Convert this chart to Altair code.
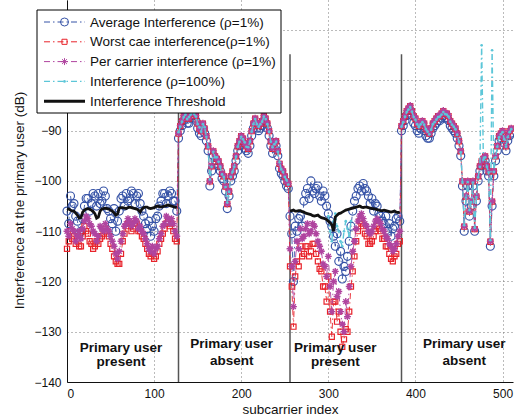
import altair as alt
import pandas as pd

# ---------------- data (every 2nd subcarrier) ----------------
subcarrier = list(range(0, 512, 2))
N = None

# --- region 1: subcarriers 0..126 (primary user present)
avg_r1 = [-106, -108.5, -103, -105, -104.5, -107, -108, -110.5,
          -110, -107.5, -105, -103.5, -103.5, -106, -104.5, -102.5,
          -103, -105, -102.5, -104.5, -104, -102, -103, -105.5,
          -106, -107.5, -108.5, -105.5, -110, -108, -106, -103.5,
          -103, -105, -102.5, -104, -103.5, -102, -102.5, -104.5,
          -103, -102.5, -104.5, -106, -107, -108.5, -109.5, -108,
          -111, -109, -110, -107.5, -107, -105, -104, -102.5,
          -102.5, -104.5, -103, -102, -102.5, -104, -104, -106]
worst_r1 = [-113.5, -112, -110, -111.5, -111, -112.5, -112, -113,
            -113, -111, -109, -110, -110.5, -112, -112.5, -113.5,
            -113, -112, -112.5, -111.5, -111, -110.5, -109.5, -110,
            -111, -112.5, -113.5, -115, -116, -116.5, -116.5, -114.5,
            -112, -110.5, -109, -108.5, -108.5, -110, -109.5, -108.5,
            -108.5, -110, -110, -111, -111.5, -112.5, -113.5, -114.5,
            -115, -114.5, -115.5, -115, -114, -112.5, -111.5, -110.5,
            -109.5, -108.5, -108, -109, -108.5, -110, -111.5, -112]
per_r1 = [-110, -111, -108.5, -109.5, -110, -112, -111, -110,
          -111.5, -109.5, -108, -107, -107.5, -108.5, -109, -110,
          -110.5, -112, -111, -109, -109.5, -110, -108.5, -109.5,
          -110, -111, -112, -113, -114.5, -115.5, -114, -112,
          -110.5, -109, -108.5, -107.5, -108, -109, -108.5, -107.5,
          -108, -109.5, -109, -110, -110.5, -111.5, -112.5, -113.5,
          -114, -113, -114.5, -113.5, -113, -111.5, -110.5, -109,
          -108.5, -107, -107.5, -108.5, -107.5, -108.5, -110, -111]
full_r1 = [N] * 64
thr_r1 = [-105.5, -105.6, -105.8, -106, -106, -106.4, -106.8, -107.4,
          -107.3, -106.2, -105.8, -105.6, -105.5, -105.6, -105.8, -106.1,
          -106.5, -107.4, -107.2, -106, -105.6, -105.5, -105.4, -105.5,
          -105.6, -105.8, -106, -106.3, -106.8, -106.6, -105.4, -105.3,
          -105.3, -105.4, -105.5, -105.3, -105.2, -105.3, -105.4, -105.5,
          -105.6, -105.8, -106.2, -105.6, -105.3, -105.2, -105.2, -105.4,
          -105.5, -105.4, -105.3, -105.1, -105, -105.1, -105.2, -105.1,
          -105, -104.9, -104.8, -104.9, -105, -105.1, -105.2, -105.3]

# --- region 2: subcarriers 128..254 (primary user absent)
avg_r2 = [-91.5, -90, -89, -88, -87.5, -88.5, -88.5, -87.5,
          -87, -87.5, -88, -89.5, -90.5, -91, -89.5, -90.5,
          -92, -94, -101, -98, -95, -96, -96.5, -97,
          -98, -99.5, -100, -102, -105.5, -103, -100, -99,
          -98, -96, -94, -93, -92, -92.5, -93.5, -94,
          -94.5, -93, -91, -89.5, -88.5, -89.5, -90, -89.5,
          -89, -88, -88.5, -89.5, -91, -93, -94.5, -93.5,
          -93, -95, -97.5, -98.5, -99, -100, -101, -101.5]
worst_r2 = [-90.6, -89.1, -88.1, -87.1, -86.6, -87.6, -87.6, -86.6,
            -86.1, -86.6, -87.1, -88.6, -89.6, -90.1, -88.6, -89.6,
            -91.1, -93.1, -100.1, -97.1, -94.1, -95.1, -95.6, -96.1,
            -97.1, -98.6, -99.1, -101.1, -104.6, -102.1, -99.1, -98.1,
            -97.1, -95.1, -93.1, -92.1, -91.1, -91.6, -92.6, -93.1,
            -93.6, -92.1, -90.1, -88.6, -87.6, -88.6, -89.1, -88.6,
            -88.1, -87.1, -87.6, -88.6, -90.1, -92.1, -93.6, -92.6,
            -92.1, -94.1, -96.6, -97.6, -98.1, -99.1, -100.1, -100.6]
per_r2 = [-90.5, -89, -88, -87, -86.5, -87.5, -87.5, -86.5,
          -86, -86.5, -87, -88.5, -89.5, -90, -88.5, -89.5,
          -91, -93, -100, -97, -94, -95, -95.5, -96,
          -97, -98.5, -99, -101, -104.5, -102, -99, -98,
          -97, -95, -93, -92, -91, -91.5, -92.5, -93,
          -93.5, -92, -90, -88.5, -87.5, -88.5, -89, -88.5,
          -88, -87, -87.5, -88.5, -90, -92, -93.5, -92.5,
          -92, -94, -96.5, -97.5, -98, -99, -100, -100.5]
full_r2 = [-90.3, -89.2, -88.2, -87.3, -86.8, -87.7, -87.3, -86.8,
           -86.3, -86.7, -87.2, -88.7, -89.3, -90.2, -88.7, -89.3,
           -91.2, -93.3, -99.7, -97.2, -94.2, -95.3, -95.3, -96.2,
           -97.2, -98.7, -99.2, -101.2, -104.3, -102.2, -99.2, -98.2,
           -97.2, -95.2, -93.2, -92.2, -91.2, -91.7, -92.3, -93.2,
           -93.3, -92.2, -90.2, -88.7, -87.7, -88.7, -89.2, -88.7,
           -88.2, -87.2, -87.7, -88.7, -90.2, -92.2, -93.3, -92.7,
           -92.2, -94.2, -96.3, -97.7, -98.2, -99.2, -99.8, -100.7]
thr_r2 = [N] * 64

# --- region 3: subcarriers 256..382 (primary user present)
avg_r3 = [-107, -110.5, -120, -109, -110, -107.5, -107, -109,
          -104, -102.5, -101.5, -103.5, -100, -102, -102.5, -101.5,
          -101, -103, -104, -102, -103, -105, -106.5, -108,
          -109, -111, -113, -110.5, -116, -114, -119.5, -117,
          -118, -115, -112, -109, -106, -104, -103, -101.5,
          -101, -102, -100.5, -101.5, -102, -103, -104.5, -103.5,
          -106, -104.5, -105, -106.5, -107, -108, -108.5, -107,
          -110, -108.5, -111, -109.5, -109, -107.5, -107, -108]
worst_r3 = [-117, -121, -129, -119, -116, -117, -113, -115,
            -114.5, -113, -113, -115, -114, -112.5, -112.5, -114.5,
            -116, -117.5, -118, -121, -121, -124, -119, -126,
            -131, -124, -124, -128, -126, -130, -133, -131.5,
            -129.5, -130, -126, -121, -118, -115, -112, -110,
            -108, -108.5, -109, -110.5, -111, -112.5, -112.5, -112,
            -111, -110, -109, -109.5, -110, -111.5, -111.5, -113,
            -113, -114.5, -115.5, -116, -115, -114.5, -112.5, -112]
per_r3 = [-113.5, -117, -125, -116, -112, -113.5, -109.5, -111.5,
          -111, -109.5, -108.5, -110.5, -110, -108.5, -109, -110.5,
          -112, -113, -114, -116.5, -117, -119, -115, -121,
          -126, -120, -118, -123, -122, -126, -128.5, -130,
          -124, -127, -121, -117, -114, -112, -109.5, -108,
          -107, -106.5, -107.5, -108.5, -109, -110, -110.5, -110,
          -109, -108, -107.5, -108, -108.5, -109.5, -110, -111,
          -111.5, -112.5, -113, -114, -113.5, -112.5, -111, -110]
full_r3 = [N] * 22 + [-107, -110, -112, -108, -106.5, -109, -110,
                      -112, -113, -110, -108, -109.5, -111, -108] + [N] * 28
thr_r3 = [-106, -105.9, -105.8, -106, -106, -105.9, -105.9, -106.1,
          -106.2, -106.4, -106.5, -106.6, -106.7, -106.9, -107, -106.9,
          -106.8, -107.1, -107.3, -107.4, -107.5, -107.7, -108, -108.3,
          -108.7, -110, -107.2, -106.8, -106.5, -106.4, -106.2, -106,
          -105.8, -105.7, -105.6, -105.5, -105.4, -105.3, -105.2, -105.1,
          -105, -105.2, -105.3, -105.2, -105.2, -105.3, -105.4, -105.5,
          -105.5, -105.6, -105.7, -105.8, -105.9, -105.9, -105.8, -105.9,
          -106, -106.1, -106.2, -106.1, -106, -106.2, -106.3, -106.2]

# --- region 4: subcarriers 384..510 (primary user absent)
avg_r4 = [-90, -89, -88, -87, -86.5, -86, -87, -88.5,
          -89, -90, -90.5, -89.5, -89, -90, -91, -91.5,
          -91.5, -90.5, -89.5, -89, -88.5, -88, -88, -87.5,
          -87, -87.5, -87.5, -88, -89, -89.5, -90, -90.5,
          -91.5, -93, -95, -101, -110, -104, -101, -107,
          -105, -101, -110, -104, -100, -98, -97, -96.5,
          -96, -98, -99, -113, -105, -99, -96, -94,
          -92, -91.5, -91, -92.5, -94, -92, -91, -90.5]
worst_r4 = [-89.1, -88.1, -87.1, -86.1, -85.6, -85.1, -86.1, -87.1,
            -87.6, -88.6, -89.1, -88.6, -88.1, -88.6, -89.6, -90.1,
            -90.6, -89.6, -88.6, -88.1, -87.6, -87.1, -87.1, -86.6,
            -86.1, -86.6, -86.6, -87.1, -88.1, -88.6, -89.1, -89.6,
            -90.6, -92.1, -94.1, -100.1, -109.1, -103.1, -100.1, -106.1,
            -104.1, -100.1, -109.6, -103.1, -99.1, -97.1, -96.1, -95.6,
            -95.1, -97.1, -98.1, -112.1, -104.1, -98.1, -95.1, -93.1,
            -91.1, -90.6, -90.1, -91.6, -93.1, -91.1, -90.1, -89.6]
per_r4 = [-89, -88, -87, -86, -85.5, -85, -86, -87,
          -87.5, -88.5, -89, -88.5, -88, -88.5, -89.5, -90,
          -90.5, -89.5, -88.5, -88, -87.5, -87, -87, -86.5,
          -86, -86.5, -86.5, -87, -88, -88.5, -89, -89.5,
          -90.5, -92, -94, -100, -109, -103, -100, -106,
          -104, -100, -109.5, -103, -99, -97, -96, -95.5,
          -95, -97, -98, -112, -104, -98, -95, -93,
          -91, -90.5, -90, -91.5, -93, -91, -90, -89.5]
full_r4 = [-89.2, -88.3, -87.2, -86.3, -85.8, -85.3, -86.2, -87.3,
           -87.8, -88.7, -89.3, -88.7, -88.3, -88.8, -89.7, -90.2,
           -90.7, -89.8, -88.7, -88.3, -87.8, -87.3, -87.2, -86.8,
           -86.3, -86.7, -86.8, -87.2, -88.2, -88.8, -89.2, -89.7,
           -90.8, -92.2, -94.3, -100.2, -108.8, -103.3, -100.2, -105.8,
           -104.2, -100.3, -109.3, -103.2, -99.3, -97.2, -73, -95.8,
           -95.3, -97.2, -98.3, -111.8, -74, -98.2, -95.3, -93.2,
           -91.3, -90.7, -90.3, -91.7, -93.2, -91.3, -90.3, -89.7]
thr_r4 = [N] * 64

avg_interference = avg_r1 + avg_r2 + avg_r3 + avg_r4
worst_interference = worst_r1 + worst_r2 + worst_r3 + worst_r4
per_carrier_interference = per_r1 + per_r2 + per_r3 + per_r4
interference_100 = full_r1 + full_r2 + full_r3 + full_r4
threshold = thr_r1 + thr_r2 + thr_r3 + thr_r4

region_bounds = [128, 256, 384]
region_label_x = [62, 189, 308, 456]
region_line1 = ["Primary user", "Primary user", "Primary user", "Primary user"]
region_line2 = ["present", "absent", "present", "absent"]
region_y1 = [-133.2, -132.4, -133.2, -132.4]
region_y2 = [-136.0, -135.8, -136.0, -135.8]

legend_labels = [
    "Average Interference (\u03c1=1%)",
    "Worst cae interference(\u03c1=1%)",
    "Per carrier interference (\u03c1=1%)",
    "Interference (\u03c1=100%)",
    "Interference Threshold",
]

# ---------------- styling ----------------
FONT = "Liberation Sans"
C_AVG = "#3552a6"
C_WORST = "#e8232b"
C_PER = "#b0449f"
C_100 = "#5cc6d8"
C_TH = "#111111"
DASHDOT = [6, 3, 1.5, 3]
ASTERISK = "M-1,0L1,0M0,-1L0,1M-0.7,-0.7L0.7,0.7M-0.7,0.7L0.7,-0.7"

XS = alt.Scale(domain=[0, 512], nice=False, zero=False)
YS = alt.Scale(domain=[-140, -64], nice=False, zero=False)


def seg_frame(values):
    s = pd.Series(values, dtype="float64")
    seg = s.isna().cumsum()
    df = pd.DataFrame({"k": subcarrier, "v": s, "seg": seg})
    return df.dropna()


df_avg = pd.DataFrame({"k": subcarrier, "v": avg_interference})
df_worst = pd.DataFrame({"k": subcarrier, "v": worst_interference})
df_per = pd.DataFrame({"k": subcarrier, "v": per_carrier_interference})
df_100 = seg_frame(interference_100)
df_th = seg_frame(threshold)

xenc = alt.X("k:Q", scale=XS,
             axis=alt.Axis(values=[0, 100, 200, 300, 400, 500], title="subcarrier index",
                           grid=True, titleY=27, titleBaseline="middle"))
yenc = alt.Y("v:Q", scale=YS,
             axis=alt.Axis(values=[-140, -130, -120, -110, -100, -90, -80, -70],
                           title="Interference at the primary user (dB)", grid=True,
                           titleX=-48, titleY=200, titleAngle=-90, titleAlign="center",
                           titleBaseline="middle"))
xq = alt.X("k:Q", scale=XS)
yq = alt.Y("v:Q", scale=YS)


def line_and_points(df, color, shape, size, sw=1.0):
    ln = alt.Chart(df).mark_line(color=color, strokeDash=DASHDOT, strokeWidth=0.9).encode(x=xenc, y=yenc)
    pt = alt.Chart(df).mark_point(shape=shape, size=size, filled=False, color=color,
                                  strokeWidth=sw, opacity=1).encode(x=xq, y=yq)
    return [ln, pt]


layers = []
df_b = pd.DataFrame({"k": region_bounds})
layers.append(alt.Chart(df_b).mark_rule(color="#555555", strokeWidth=1.5).encode(
    x=xq, y=alt.datum(-140), y2=alt.datum(-74.8)))

layers += line_and_points(df_avg, C_AVG, "circle", 64, 1.15)
layers += line_and_points(df_worst, C_WORST, "square", 26, 1.2)
layers += line_and_points(df_per, C_PER, ASTERISK, 48, 1.4)
layers.append(alt.Chart(df_100).mark_line(color=C_100, strokeDash=DASHDOT, strokeWidth=1.4).encode(
    x=xq, y=yq, detail="seg:N"))
layers.append(alt.Chart(df_100).mark_point(shape="circle", size=7, filled=True, color=C_100, opacity=1).encode(
    x=xq, y=yq))
layers.append(alt.Chart(df_th).mark_line(color=C_TH, strokeWidth=2.8).encode(
    x=xq, y=yq, detail="seg:N"))

df_txt = pd.DataFrame({
    "k": region_label_x + region_label_x,
    "v": region_y1 + region_y2,
    "t": region_line1 + region_line2,
})
layers.append(alt.Chart(df_txt).mark_text(font=FONT, fontSize=13.5, fontWeight="bold", color="#111111",
                                          align="center", baseline="middle").encode(
    x=xq, y=yq, text="t:N"))

# legend box (pixel offsets from the plot area)
one = pd.DataFrame({"a": [0]})
layers.append(alt.Chart(one).mark_rect(fill="white", stroke="black", strokeWidth=1).encode(
    x=alt.value(-30), x2=alt.value(214), y=alt.value(10), y2=alt.value(113)))

leg_styles = [
    (C_AVG, DASHDOT, 1, "circle", 64, False),
    (C_WORST, DASHDOT, 1, "square", 26, False),
    (C_PER, DASHDOT, 1, ASTERISK, 48, False),
    (C_100, DASHDOT, 1.3, "circle", 7, True),
    (C_TH, None, 3, None, 0, False),
]
for i, (lab, (col, dash, w, shp, sz, fil)) in enumerate(zip(legend_labels, leg_styles)):
    yy = 22 + 19.8 * i
    rule_kw = dict(color=col, strokeWidth=w)
    if dash:
        rule_kw["strokeDash"] = dash
    layers.append(alt.Chart(one).mark_rule(**rule_kw).encode(
        x=alt.value(-23), x2=alt.value(18), y=alt.value(yy)))
    if shp:
        layers.append(alt.Chart(one).mark_point(shape=shp, size=sz, filled=fil, color=col,
                                                strokeWidth=1, opacity=1).encode(
            x=alt.value(-2.5), y=alt.value(yy)))
    layers.append(alt.Chart(pd.DataFrame({"t": [lab]})).mark_text(
        font=FONT, fontSize=13.5, align="left", baseline="middle", color="#111111").encode(
        x=alt.value(23), y=alt.value(yy + 0.5), text="t:N"))

chart = alt.layer(*layers).properties(
    width=446, height=382,
    autosize=alt.AutoSizeParams(type="none"),
    padding={"left": 67, "top": 0, "right": 1, "bottom": 34},
).configure_view(stroke=None).configure_axis(
    labelFont=FONT, titleFont=FONT, labelFontSize=12, titleFontSize=13.5,
    labelColor="#111111", titleColor="#111111", titleFontWeight="normal",
    domainColor="#111111", domainWidth=1, ticks=False, labelPadding=6,
    gridColor="#777777", gridDash=[1, 3], gridWidth=1, gridOpacity=1,
)

chart.save("out.html", embed_options={"renderer": "svg", "actions": False})
